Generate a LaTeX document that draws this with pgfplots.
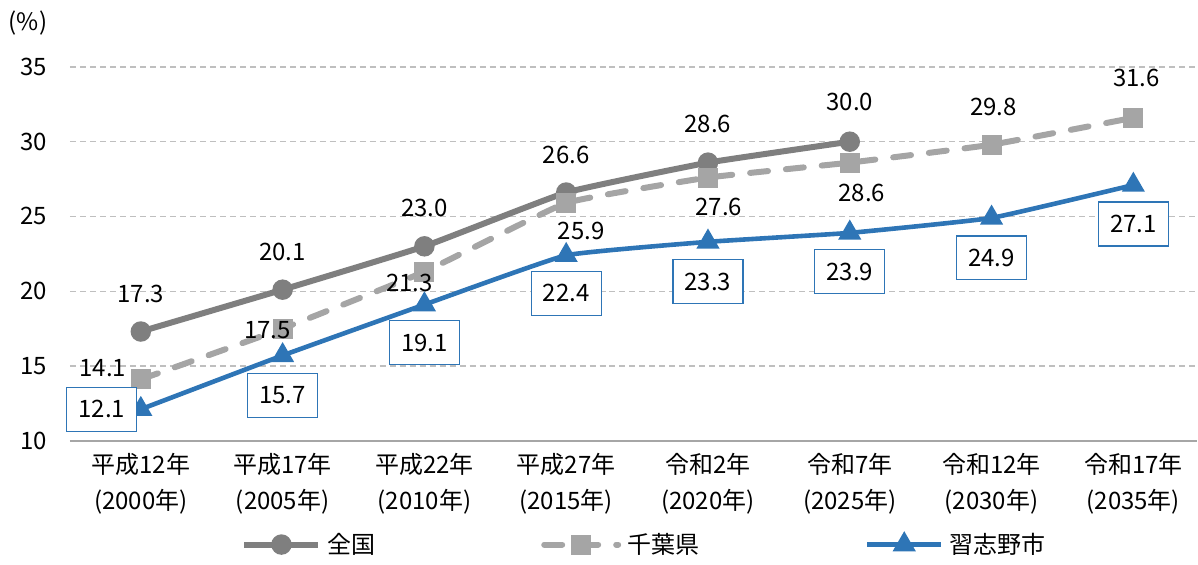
\documentclass[border=0pt]{standalone}
\usepackage{fontspec}
\setmainfont{Noto Sans CJK JP}
\usepackage{pgfplots}
\usepackage{pgfplotstable}
\pgfplotsset{compat=1.18}
\definecolor{cZen}{HTML}{7F7F7F}
\definecolor{cChiba}{HTML}{A5A5A5}
\definecolor{cNara}{HTML}{2E75B6}
\definecolor{cGrid}{HTML}{BFBFBF}
\definecolor{cAxis}{HTML}{A6A6A6}

\pgfplotstableread{
x y lab dx dy
0 17.3 17.3 0 19
1 20.1 20.1 0 19
2 23.0 23.0 0 19
3 26.6 26.6 0 19
4 28.6 28.6 0 19.5
5 30.0 30.0 0 20
}\zenkoku
\pgfplotstableread{
x y lab dx dy
0 14.1 14.1 -19 5.5
1 17.5 17.5 -7.5 -1
2 21.3 21.3 -7.5 -5.5
3 25.9 25.9 7.5 -14
4 27.6 27.6 5.5 -14.5
5 28.6 28.6 6 -15
6 29.8 29.8 1 19
7 31.6 31.6 1.5 20
}\chiba
\pgfplotstableread{
x y lab dx dy
0 12.1 12.1 -19.5 0
1 15.7 15.7 0 -20
2 19.1 19.1 0 -19
3 22.4 22.4 0 -19
4 23.3 23.3 0 -20
5 23.9 23.9 0 -19.5
6 24.9 24.9 0 -20
7 27.1 27.1 0 -19.5
}\narashino

\pgfplotsset{
  mylabels/.style={
    nodes near coords,
    point meta=explicit symbolic,
    visualization depends on={\thisrow{dx}\as\mydx},
    visualization depends on={\thisrow{dy}\as\mydy},
  },
}

\begin{document}
\begin{tikzpicture}
\begin{axis}[
  name=ax,
  at={(0,0)}, anchor=south west,
  scale only axis,
  width=564pt, height=187pt,
  xmin=-0.5, xmax=7.449,
  ymin=10, ymax=35,
  clip=false,
  axis x line*=bottom,
  axis y line*=left,
  x axis line style={draw=cAxis, line width=1pt},
  y axis line style={draw=none},
  major tick length=0pt,
  xtick={0,...,7},
  xticklabels={{平成12年\\(2000年)},{平成17年\\(2005年)},{平成22年\\(2010年)},{平成27年\\(2015年)},{令和2年\\(2020年)},{令和7年\\(2025年)},{令和12年\\(2030年)},{令和17年\\(2035年)}},
  xticklabel style={align=center, font=\fontsize{12}{18}\selectfont, yshift=-3pt},
  ytick={10,15,20,25,30,35},
  yticklabel style={font=\fontsize{12}{14}\selectfont, anchor=east, xshift=-8pt},
  /pgf/number format/assume math mode=true,
  ymajorgrids,
  grid style={draw=cGrid, line width=0.6pt, dash pattern=on 3pt off 2pt},
  legend columns=3,
  legend style={at={(0.5,0)}, anchor=center, xshift=6pt, yshift=-52pt, draw=none, fill=none,
    font=\fontsize{12}{14}\selectfont,
    /tikz/every even column/.append style={column sep=81pt},
    /tikz/every odd column/.append style={column sep=1pt}},
  legend image code/.code={\draw[mark repeat=2,mark phase=2] plot coordinates {(0pt,0pt) (18.5pt,0pt) (37pt,0pt)};},
]
\addplot[color=cZen, line width=3pt, smooth, tension=0.2, mark=*, mark size=3.6pt,
  mark options={solid, fill=cZen, draw=cZen},
  mylabels,
  nodes near coords style={anchor=center, text=black, font=\fontsize{12}{14}\selectfont, xshift=\mydx pt, yshift=\mydy pt}]
  table[x=x, y=y, meta=lab] {\zenkoku};
\addlegendentry{全国}
\addplot[color=cChiba, line width=3pt, smooth, tension=0.2, line cap=round, dash pattern=on 9pt off 9pt, mark=square*, mark size=3.5pt,
  mark options={solid, fill=cChiba, draw=cChiba},
  mylabels,
  nodes near coords style={anchor=center, text=black, font=\fontsize{12}{14}\selectfont, xshift=\mydx pt, yshift=\mydy pt}]
  table[x=x, y=y, meta=lab] {\chiba};
\addlegendentry{千葉県}
\addplot[color=cNara, line width=2.3pt, smooth, tension=0.2, mark=triangle*, mark size=4.4pt,
  mark options={solid, fill=cNara, draw=cNara},
  mylabels,
  nodes near coords style={anchor=center, text=black, font=\fontsize{12}{14}\selectfont, draw=cNara, line width=0.6pt, fill=white, minimum width=35pt, minimum height=22pt, xshift=\mydx pt, yshift=\mydy pt}]
  table[x=x, y=y, meta=lab] {\narashino};
\addlegendentry{習志野市}
\end{axis}
\node[font=\fontsize{12}{14}\selectfont, anchor=center] at ([xshift=-21pt,yshift=209pt]ax.south west) {(\%)};
\path[use as bounding box] ([xshift=-35pt,yshift=-58pt]ax.south west) rectangle ([yshift=220.5pt]ax.south east);
\end{tikzpicture}
\end{document}
